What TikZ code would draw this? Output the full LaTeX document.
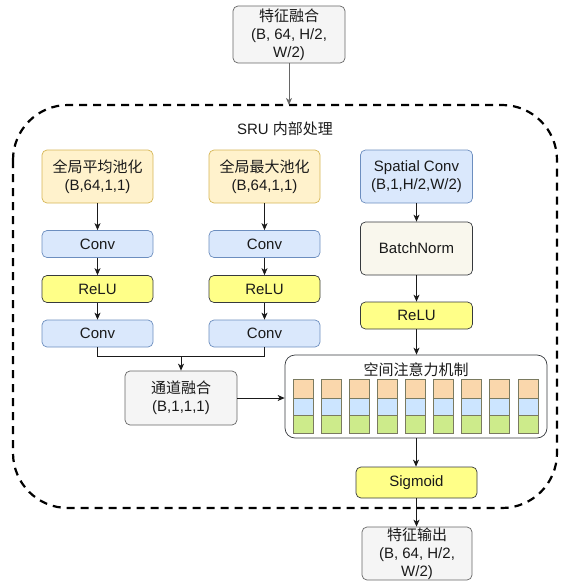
\documentclass[tikz,border=0pt]{standalone}
\usepackage{fontspec}
\setmainfont{Liberation Sans}
\newfontfamily\cjk{Noto Sans CJK SC}
\usetikzlibrary{arrows.meta}
\definecolor{poolfill}{HTML}{FFF2CC}
\definecolor{pooldraw}{HTML}{D6B656}
\definecolor{bluefill}{HTML}{DAE8FC}
\definecolor{bluedraw}{HTML}{6C8EBF}
\definecolor{relufill}{HTML}{FFFF88}
\definecolor{darkdraw}{HTML}{36393D}
\definecolor{bnfill}{HTML}{F9F7ED}
\definecolor{grayfill}{HTML}{F5F5F5}
\definecolor{graydraw}{HTML}{666666}
\definecolor{barorange}{HTML}{FAD7AC}
\definecolor{barblue}{HTML}{CCE5FF}
\definecolor{bargreen}{HTML}{CDEB8B}
\definecolor{bardraw}{HTML}{7A7A60}
\definecolor{txt}{HTML}{1A1A1A}
\begin{document}
\begin{tikzpicture}[x=1pt,y=-1pt,
  base/.style={rectangle, rounded corners=5pt, inner sep=0pt, align=center,
    font={\fontsize{15}{18}\selectfont}, text=txt, line width=0.7pt},
  pool/.style={base, fill=poolfill, draw=pooldraw, minimum width=111pt, minimum height=53pt},
  conv/.style={base, fill=bluefill, draw=bluedraw, minimum width=111pt, minimum height=27pt},
  relu/.style={base, fill=relufill, draw=darkdraw, minimum width=111pt, minimum height=27pt},
  bn/.style={base, fill=bnfill, draw=darkdraw, minimum width=112pt, minimum height=53pt},
  grayb/.style={base, fill=grayfill, draw=graydraw, minimum width=111pt, minimum height=54pt},
  arr/.style={draw=txt, line width=0.8pt, -{Stealth[length=7pt,width=6pt,inset=2pt]}},
  ln/.style={draw=txt, line width=0.8pt},
  barb/.style={draw=bardraw, line width=0.6pt}
]
\useasboundingbox (0,0) rectangle (563,586);

% outer dashed region
\draw[line width=2.2pt, dash pattern=on 8pt off 6pt, rounded corners=55pt]
  (13,105) rectangle (557,508);
\node[font={\fontsize{15}{18}\selectfont}, text=txt] (title) at (285,129) {SRU {\cjk 内部处理}};

% top input
\node[grayb, minimum width=112pt, minimum height=57pt] (top) at (289,34.5) {{\cjk 特征融合}\\(B, 64, H/2,\\W/2)};
\coordinate (inTop) at (289,105);

% left column
\node[pool] (p1) at (97.5,176.5) {{\cjk 全局平均池化}\\(B,64,1,1)};
\node[conv] (c1a) at (97.5,244) {Conv};
\node[relu] (r1) at (97.5,289) {ReLU};
\node[conv] (c1b) at (97.5,333.5) {Conv};

% middle column
\node[pool] (p2) at (264.5,176.5) {{\cjk 全局最大池化}\\(B,64,1,1)};
\node[conv] (c2a) at (264.5,244) {Conv};
\node[relu] (r2) at (264.5,289) {ReLU};
\node[conv] (c2b) at (264.5,333.5) {Conv};

% right column
\node[conv, minimum width=112pt, minimum height=53pt] (sp) at (416.5,176.5) {Spatial Conv\\(B,1,H/2,W/2)};
\node[bn] (bn) at (416.5,248.5) {BatchNorm};
\node[relu, minimum width=112pt] (r3) at (416.5,315.5) {ReLU};

% fusion
\node[grayb, minimum width=112pt] (fuse) at (181,398) {{\cjk 通道融合}\\(B,1,1,1)};
\coordinate (join) at (181,356);

% attention
\node[base, fill=white, draw=darkdraw, rounded corners=10pt, minimum width=262pt, minimum height=83pt] (att) at (416,396.5) {};
\node[font={\fontsize{15}{18}\selectfont\cjk}, text=txt] (attt) at (416,370) {空间注意力机制};
\foreach \i in {0,...,8}{
  \pgfmathsetmacro{\xa}{293+\i*28.1}
  \pgfmathsetmacro{\xb}{\xa+20}
  \draw[barb, fill=barorange] (\xa,379) rectangle (\xb,398);
  \draw[barb, fill=barblue] (\xa,398) rectangle (\xb,415);
  \draw[barb, fill=bargreen] (\xa,415) rectangle (\xb,433);
}

% sigmoid and output
\node[relu, minimum width=121pt, minimum height=31pt] (sig) at (416.5,482.5) {Sigmoid};
\node[grayb, minimum width=110pt, minimum height=53pt] (out) at (417,553.5) {{\cjk 特征输出}\\(B, 64, H/2,\\W/2)};

% connectors
\draw[arr, draw=graydraw] (top) -- (inTop);
\draw[arr] (p1) -- (c1a);
\draw[arr] (c1a) -- (r1);
\draw[arr] (r1) -- (c1b);
\draw[arr] (p2) -- (c2a);
\draw[arr] (c2a) -- (r2);
\draw[arr] (r2) -- (c2b);
\draw[ln] (c1b.south) |- (join);
\draw[ln] (c2b.south) |- (join);
\draw[arr] (join) -- (fuse.north);
\draw[arr] (fuse.east) -- (fuse.east -| att.west);
\draw[arr] (sp) -- (bn);
\draw[arr] (bn) -- (r3);
\draw[arr] (r3.south) -- (r3.south |- att.north);
\draw[arr] (att.south) -- (att.south |- sig.north);
\draw[arr] (sig.south) -- (sig.south |- out.north);
\end{tikzpicture}
\end{document}
